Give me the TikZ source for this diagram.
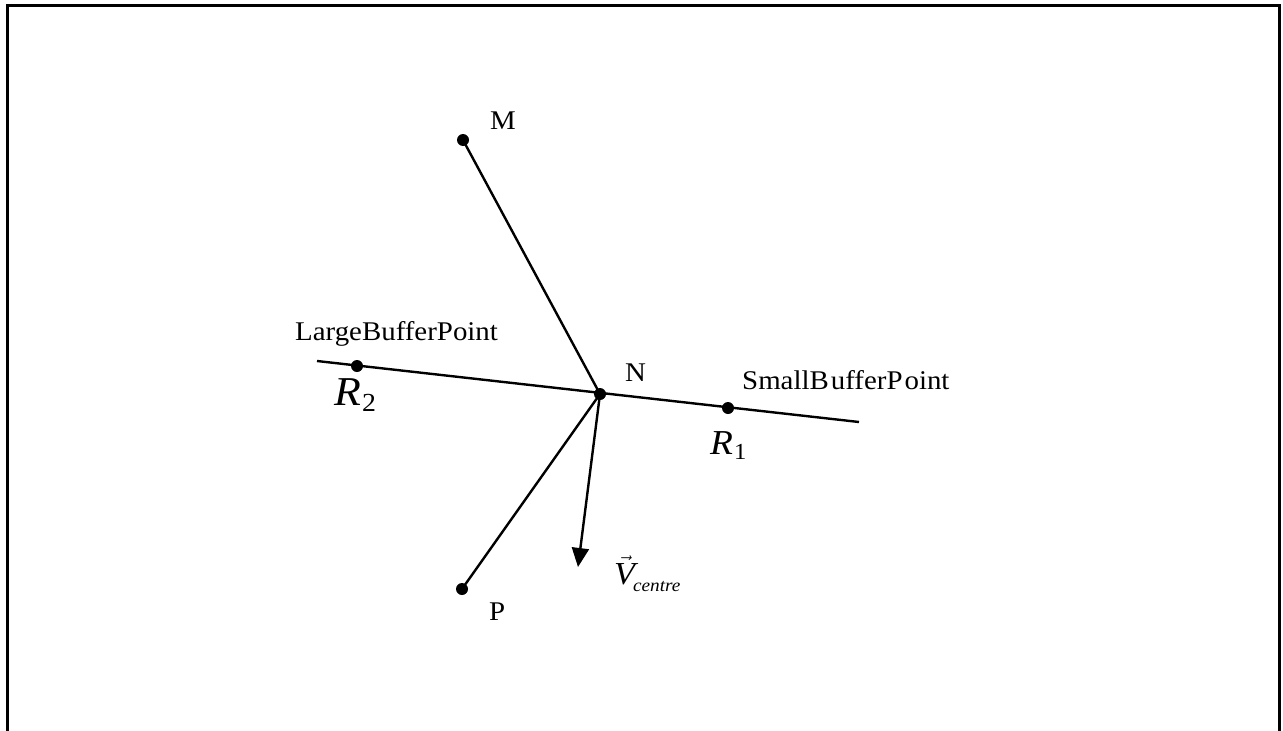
\documentclass[tikz,border=0pt]{standalone}
\usepackage{fontspec}
\setmainfont[FakeStretch=1.07]{Liberation Serif}
\usetikzlibrary{arrows.meta}
\begin{document}
\begin{tikzpicture}[x=1pt,y=-1pt,
  seg/.style={line width=2.4pt},
  pt/.style={circle,fill=black,inner sep=0pt,minimum size=12pt},
  lbl/.style={inner sep=0pt,anchor=base west,font=\fontsize{27}{30}\selectfont},
  framepath/.style={line width=3pt}]
\useasboundingbox (0,0) rectangle (1283,731);
\draw[framepath] (7.5,731) -- (7.5,5.5) -- (1279.5,5.5) -- (1279.5,731);
% points
\coordinate (M) at (463,140);
\coordinate (N) at (600,394);
\coordinate (P) at (462,589);
\coordinate (Lend) at (317,361);
\coordinate (Rend) at (859,422);
\coordinate (R2) at (357,366);
\coordinate (R1) at (728,408);
\coordinate (Vtip) at (578,567);
% connectors
\draw[seg] (M) -- (N);
\draw[seg] (P) -- (N);
\draw[seg] (Lend) -- (Rend);
\draw[seg,-{Triangle[length=19pt,width=17pt]}] (N) -- (Vtip);
% dots
\node[pt] (dM) at (M) {};
\node[pt] (dN) at (N) {};
\node[pt] (dP) at (P) {};
\node[pt] (dR2) at (R2) {};
\node[pt] (dR1) at (R1) {};
% labels
\node[lbl] (lM) at (490,129) {M};
\node[lbl] (lN) at (625,381) {N};
\node[lbl] (lP) at (489,620) {P};
\node[lbl] (lLarge) at (295,340) {LargeBufferPoint};
\node[lbl] (lSmall) at (742,389) {SmallB\kern2pt ufferP\kern2pt oint};
\node[inner sep=0pt,anchor=base west] (lR2) at (334,405) {\fontsize{41}{43}\selectfont\itshape R\kern1pt\raisebox{-6pt}{\fontsize{26}{27}\selectfont\upshape 2}};
\node[inner sep=0pt,anchor=base west] (lR1) at (710,454) {\fontsize{35}{37}\selectfont\itshape R\kern1pt\raisebox{-5pt}{\fontsize{23}{24}\selectfont\upshape 1}};
\node[inner sep=0pt,anchor=base west] (lV) at (614,584) {\fontsize{32}{34}\selectfont$\vec{\mbox{\itshape V}}$\kern-2pt\raisebox{-7pt}{\fontsize{18}{19}\selectfont\itshape centre}};
\end{tikzpicture}
\end{document}
